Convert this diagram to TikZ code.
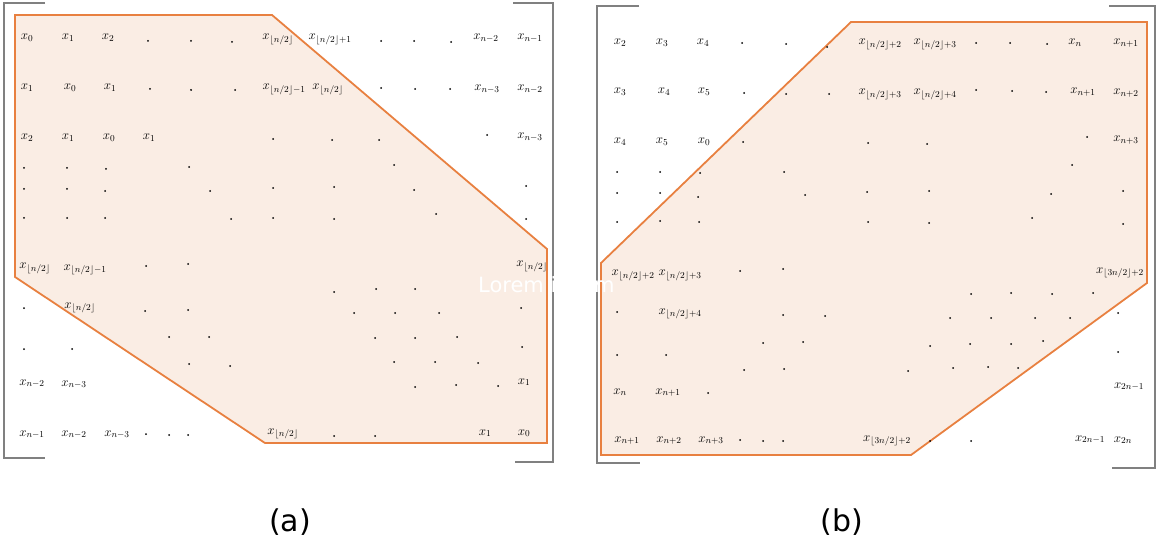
\RequirePackage{fix-cm}
\documentclass[tikz,border=0pt]{standalone}
\usepackage{fontspec}
\newfontfamily\capfont{DejaVu Sans}
\definecolor{bandorange}{RGB}{232,128,64}
\definecolor{bandfill}{RGB}{250,237,228}
\definecolor{brgray}{RGB}{128,128,128}
\newcommand{\halfn}{\lfloor n/2\rfloor}
\newcommand{\tqn}{\lfloor 3n/2\rfloor}
\usetikzlibrary{positioning}

\begin{document}
\begin{tikzpicture}[
  x=1pt,y=-1pt,
  entry/.style={font=\fontsize{13}{15}\selectfont,inner sep=0pt,anchor=base},
  dotmark/.style={circle,fill=black,inner sep=0pt,minimum size=2pt},
  region/.style={draw=bandorange,fill=bandfill,line width=1.8pt},
  bracket/.style={draw=brgray,line width=1.6pt},
  caption/.style={font=\capfont\fontsize{30}{34}\selectfont,inner sep=0pt}
]
  \useasboundingbox (0,0) rectangle (1157,548);
  % Shaded bands
  \draw[region] (15,15) -- (272,15) -- (547,249) -- (547,443) -- (265,443) -- (15,277) -- cycle;
  \draw[region] (851,22) -- (1147,22) -- (1147,283) -- (911,455) -- (601,455) -- (601,263) -- cycle;
  % Brackets
  \draw[bracket] (45,3) -- (4,3) -- (4,458) -- (45,458);
  \draw[bracket] (513,3) -- (553,3) -- (553,462) -- (515,462);
  \draw[bracket] (639,6) -- (597,6) -- (597,463) -- (640,463);
  \draw[bracket] (1109,6) -- (1155,6) -- (1155,468) -- (1112,468);
  % Matrix (a): entries
  \foreach \px/\py/\lab [count=\i] in {
      27/40/x_0, 68/40/x_1, 108/40/x_2, 278/40/{x_{\halfn}}, 330/40/{x_{\halfn+1}}, 486/40/x_{n-2}, 530/40/x_{n-1},
      27/90/x_1, 70/90/x_0, 110/90/x_1, 284/90/{x_{\halfn-1}}, 328/90/{x_{\halfn}}, 487/91/x_{n-3}, 530/91/x_{n-2},
      27/140/x_2, 68/140/x_1, 109/140/x_0, 149/140/x_1, 530/139/x_{n-3},
      35/269/{x_{\halfn}}, 85/270/{x_{\halfn-1}}, 532/267/{x_{\halfn}},
      80/308/{x_{\halfn}},
      32/385/x_{n-2}, 74/386/x_{n-3}, 524/384/x_1,
      32/436/x_{n-1}, 74/436/x_{n-2}, 117/436/x_{n-3}, 283/434/{x_{\halfn}}, 485/435/x_1, 524/435/x_0}
    \node[entry] (ea\i) at (\px,\py) {$\lab$};
  % Matrix (a): dots
  \foreach \px/\py [count=\i] in {
      148/41, 191/41, 232/42, 381/41, 414/41, 451/42,
      150/89, 191/90, 235/90, 381/88, 415/89, 450/89,
      273/139, 332/140, 379/140, 487/135,
      24/168, 67/168, 106/169, 189/167, 394/165,
      24/189, 67/189, 105/191, 210/191, 273/188, 334/187, 414/190, 526/186,
      24/218, 67/218, 105/218, 231/219, 273/218, 334/219, 436/214, 526/219,
      146/266, 188/264,
      24/308, 145/311, 188/310,
      169/337, 209/337, 24/349, 72/349, 189/364, 230/366,
      334/292, 376/289, 415/289,
      354/313, 395/313, 439/313, 521/308,
      375/338, 415/338, 457/337,
      394/362, 435/362, 478/363, 522/347,
      415/387, 456/385, 498/386,
      146/434, 169/435, 188/435, 334/436, 375/436}
    \node[dotmark] (da\i) at (\px,\py) {};
  % Matrix (b): entries
  \foreach \px/\py/\lab [count=\i] in {
      620/45/x_2, 662/45/x_3, 703/45/x_4, 880/45/{x_{\halfn+2}}, 935/45/{x_{\halfn+3}}, 1075/45/x_n, 1126/45/x_{n+1},
      620/94/x_3, 664/94/x_4, 704/94/x_5, 880/95/{x_{\halfn+3}}, 935/95/{x_{\halfn+4}}, 1083/94/x_{n+1}, 1126/95/x_{n+2},
      620/144/x_4, 662/144/x_5, 704/144/x_0, 1126/142/x_{n+3},
      633/276/{x_{\halfn+2}}, 680/276/{x_{\halfn+3}}, 1120/273/{x_{\tqn+2}},
      680/314/{x_{\halfn+4}},
      620/394/x_n, 668/394/x_{n+1}, 1129/388/x_{2n-1},
      627/442/x_{n+1}, 669/442/x_{n+2}, 711/442/x_{n+3}, 887/441/{x_{\tqn+2}}, 1090/441/x_{2n-1}, 1123/442/x_{2n}}
    \node[entry] (eb\i) at (\px,\py) {$\lab$};
  % Matrix (b): dots
  \foreach \px/\py [count=\i] in {
      742/43, 786/44, 827/47, 976/43, 1010/43, 1047/44,
      744/93, 786/94, 829/94, 976/90, 1012/91, 1046/92,
      743/142, 868/143, 927/144, 1087/137,
      617/172, 660/172, 700/173, 784/172, 1072/165,
      617/193, 660/193, 698/197, 805/195, 867/192, 929/191, 1051/194, 1123/191,
      617/222, 660/221, 699/222, 868/222, 929/223, 1032/218, 1123/224,
      740/271, 783/269,
      617/312, 783/315, 825/316,
      763/343, 803/342, 617/355, 666/355, 744/370, 784/369, 708/393,
      971/294, 1011/293, 1052/294, 1093/293,
      950/318, 991/318, 1035/318, 1070/318, 1118/313,
      930/346, 970/344, 1011/344, 1043/341, 1118/352,
      908/371, 953/368, 988/367, 1018/368,
      740/440, 763/441, 783/441, 930/441, 971/441}
    \node[dotmark] (db\i) at (\px,\py) {};
  % Stray overlay text
  \node[font=\capfont\fontsize{21}{24}\selectfont,text=white,inner sep=0pt,anchor=base west] (lorem) at (478,292) {Lorem ipsum};
  % Captions
  \node[caption] (capa) at (290,522) {(a)};
  \node[caption] (capb) at (842,522) {(b)};
\end{tikzpicture}
\end{document}
